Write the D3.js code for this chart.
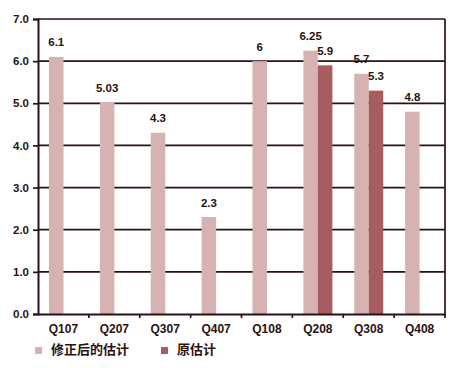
<!DOCTYPE html>
<html><head><meta charset="utf-8">
<script src="https://cdn.jsdelivr.net/npm/d3@7"></script>
<style>body{margin:0;background:#fff}svg{display:block}</style>
</head><body>
<script>
const categories = ["Q107","Q207","Q307","Q407","Q108","Q208","Q308","Q408"];
const revised = [6.1, 5.03, 4.3, 2.3, 6, 6.25, 5.7, 4.8];
const revisedLabels = ["6.1","5.03","4.3","2.3","6","6.25","5.7","4.8"];
const original = [null, null, null, null, null, 5.9, 5.3, null];
const originalLabels = [null, null, null, null, null, "5.9","5.3", null];
const yTicks = [0,1,2,3,4,5,6,7];
const seriesNames = ["修正后的估计","原估计"];

const W=450,H=368;
const m={l:38,r:5,t:19,b:54};
const svg=d3.select("body").append("svg").attr("width",W).attr("height",H);
const x=d3.scaleBand().domain(categories).range([m.l,W-m.r]);
const y=d3.scaleLinear().domain([0,7]).range([H-m.b,m.t]);
const light="#d6b2b2", dark="#a65c60", ink="#2a1212";
const font="'Liberation Sans', Arial, sans-serif";

// gridlines
svg.append("g").selectAll("line").data(yTicks.filter(d=>d>0)).join("line")
  .attr("x1",m.l).attr("x2",W-m.r).attr("y1",d=>y(d)).attr("y2",d=>y(d))
  .attr("stroke",ink).attr("stroke-width",1.7);
// right border
svg.append("line").attr("x1",W-m.r).attr("x2",W-m.r).attr("y1",y(7)).attr("y2",y(0))
  .attr("stroke",ink).attr("stroke-width",1.7);

const off=11, bw=14.5;
const bars=svg.append("g");
bars.selectAll("rect.r").data(categories).join("rect")
  .attr("x",d=>x(d)+off).attr("width",bw)
  .attr("y",(d,i)=>y(revised[i])).attr("height",(d,i)=>y(0)-y(revised[i]))
  .attr("fill",light);
bars.selectAll("rect.o").data(categories.filter((d,i)=>original[i]!=null)).join("rect")
  .attr("x",d=>x(d)+off+bw).attr("width",bw)
  .attr("y",d=>y(original[categories.indexOf(d)]))
  .attr("height",d=>y(0)-y(original[categories.indexOf(d)]))
  .attr("fill",dark);

const lab=svg.append("g").attr("font-family",font).attr("font-weight","bold").attr("font-size","11.5px").attr("fill",ink).attr("text-anchor","middle");
lab.selectAll("text.r").data(categories).join("text")
  .attr("x",d=>x(d)+off+bw/2).attr("y",(d,i)=>y(revised[i])-10.5)
  .text((d,i)=>revisedLabels[i]);
lab.selectAll("text.o").data(categories.filter((d,i)=>original[i]!=null)).join("text")
  .attr("x",d=>x(d)+off+bw*1.5).attr("y",d=>y(original[categories.indexOf(d)])-10.5)
  .text(d=>originalLabels[categories.indexOf(d)]);

// y axis
const ya=svg.append("g").attr("transform",`translate(${m.l},0)`)
  .call(d3.axisLeft(y).tickValues(yTicks).tickFormat(d3.format(".1f")).tickSize(5).tickPadding(4));
ya.select(".domain").attr("stroke",ink).attr("stroke-width",2);
ya.selectAll(".tick line").attr("stroke",ink).attr("stroke-width",1.7);
ya.selectAll("text").attr("font-family",font).attr("font-weight","bold").attr("font-size","11.5px").attr("fill",ink);

// x axis
const xa=svg.append("g").attr("transform",`translate(0,${y(0)})`)
  .call(d3.axisBottom(x).tickSize(0).tickPadding(10));
xa.select(".domain").attr("stroke",ink).attr("stroke-width",2);
xa.selectAll("text").attr("font-family",font).attr("font-weight","bold").attr("font-size","12px").attr("fill",ink);
// boundary ticks
svg.append("g").selectAll("line").data(categories.slice(1).concat(["__end"])).join("line")
  .attr("x1",d=>d==="__end"?W-m.r:x(d)).attr("x2",d=>d==="__end"?W-m.r:x(d))
  .attr("y1",y(0)).attr("y2",y(0)+4).attr("stroke",ink).attr("stroke-width",1.7);

// legend
const leg=svg.append("g").attr("font-family","'Noto Sans CJK SC', sans-serif").attr("font-weight","bold").attr("font-size","13px").attr("fill",ink);
const lx=[35,161];
seriesNames.forEach((n,i)=>{
  leg.append("rect").attr("x",lx[i]).attr("y",347).attr("width",7).attr("height",7).attr("fill",i?dark:light);
  leg.append("text").attr("x",lx[i]+16).attr("y",350.5).attr("dominant-baseline","middle").text(n);
});
</script>
</body></html>
